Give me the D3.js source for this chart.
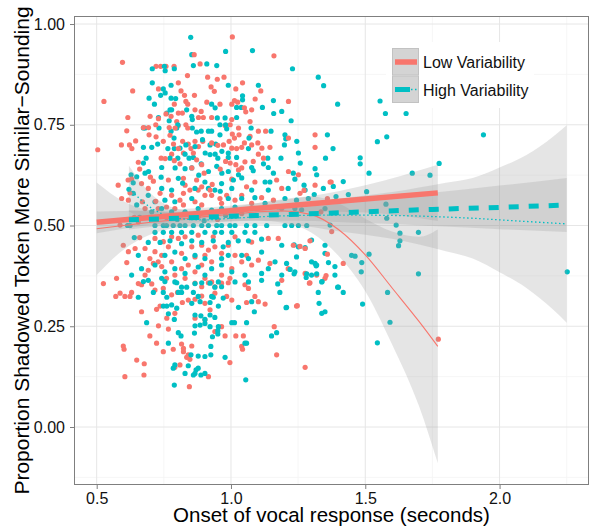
<!DOCTYPE html>
<html>
<head>
<meta charset="utf-8">
<script src="https://cdn.jsdelivr.net/npm/d3@7"></script>
<style>
  body { margin: 0; background: #fff; }
  text { font-family: "Liberation Sans", Arial, Helvetica, sans-serif; }
</style>
</head>
<body>
<svg width="589" height="529"></svg>
<script>
// ---- data ----
const lowPoints = [
[1.005,0.968],[1.160,0.921],[0.596,0.905],[0.721,0.895],[0.738,0.895],[0.758,0.895],[0.788,0.895],[0.863,0.924],[0.885,0.901],[0.838,0.872],[0.913,0.868],[0.949,0.863],[0.974,0.868],[1.043,0.854],[1.018,0.839],[1.111,0.834],[0.730,0.839],[0.634,0.834],[0.804,0.854],[0.814,0.834],[0.827,0.823],[0.926,0.844],[0.938,0.833],[0.864,0.823],[0.527,0.808],[0.789,0.801],[0.832,0.808],[0.839,0.801],[0.910,0.806],[0.959,0.801],[1.003,0.801],[1.025,0.806],[1.013,0.810],[1.090,0.814],[1.214,0.808],[1.050,0.792],[1.077,0.787],[1.055,0.782],[0.866,0.787],[0.889,0.783],[0.897,0.768],[0.879,0.768],[0.804,0.779],[0.819,0.779],[0.758,0.777],[0.777,0.771],[0.699,0.771],[0.730,0.765],[0.616,0.768],[0.798,0.758],[0.832,0.750],[0.804,0.748],[0.928,0.768],[1.003,0.763],[0.997,0.750],[0.978,0.748],[1.071,0.758],[0.720,0.750],[0.770,0.743],[0.792,0.742],[0.839,0.742],[0.773,0.724],[0.693,0.743],[0.674,0.743],[0.612,0.735],[0.695,0.725],[0.721,0.720],[1.028,0.742],[1.005,0.727],[1.030,0.725],[1.013,0.717],[1.102,0.734],[1.129,0.734],[1.071,0.721],[1.313,0.725],[1.313,0.694],[1.214,0.717],[0.592,0.700],[0.622,0.700],[0.631,0.691],[0.645,0.710],[0.504,0.688],[0.655,0.657],[0.820,0.709],[0.841,0.702],[0.866,0.709],[0.895,0.709],[0.879,0.696],[0.851,0.691],[0.748,0.709],[0.786,0.702],[0.804,0.691],[0.823,0.680],[0.779,0.677],[0.740,0.667],[0.755,0.666],[0.789,0.661],[0.810,0.653],[0.928,0.705],[0.951,0.699],[0.972,0.700],[0.993,0.709],[1.003,0.692],[1.021,0.691],[1.040,0.694],[1.050,0.705],[1.077,0.700],[1.100,0.705],[1.115,0.692],[1.145,0.694],[1.102,0.677],[1.121,0.667],[1.083,0.659],[1.052,0.658],[1.214,0.634],[1.251,0.626],[0.980,0.659],[0.997,0.655],[1.018,0.651],[1.040,0.643],[1.028,0.638],[0.860,0.680],[0.872,0.663],[0.891,0.651],[0.854,0.643],
[0.630,0.615],[0.711,0.610],[0.767,0.613],[0.823,0.617],[0.872,0.613],[0.930,0.602],[1.003,0.615],[1.170,0.613],[1.369,0.608],[0.847,0.588],[0.878,0.588],[0.903,0.575],[0.823,0.580],[0.866,0.559],[0.593,0.567],[0.618,0.563],[0.928,0.575],[0.959,0.567],[0.984,0.575],[1.040,0.575],[1.077,0.555],[1.114,0.569],[1.158,0.563],[1.189,0.542],[0.729,0.542],[0.760,0.546],[0.791,0.542],[0.823,0.551],[0.680,0.542],[0.670,0.559],[0.587,0.501],[0.717,0.468],[0.748,0.460],[0.767,0.447],[0.804,0.468],[0.829,0.472],[0.643,0.443],[0.680,0.443],[0.717,0.435],[0.742,0.426],[0.599,0.451],[0.618,0.435],[0.612,0.408],[0.698,0.418],[0.711,0.406],[0.729,0.410],[0.692,0.389],[0.742,0.398],[0.854,0.447],[0.891,0.451],[0.916,0.439],[0.940,0.447],[0.866,0.422],[0.903,0.426],[0.928,0.410],[0.816,0.393],[0.841,0.402],[0.866,0.385],[0.990,0.451],[1.015,0.426],[1.040,0.410],[1.058,0.426],[1.077,0.402],[1.139,0.468],[1.176,0.468],[1.232,0.451],[1.276,0.443],[1.102,0.414],[1.145,0.406],[1.213,0.393],[1.276,0.381],[1.319,0.377],[1.350,0.369],[1.418,0.406],[0.965,0.377],[0.996,0.369],[0.928,0.360],[0.903,0.369],[0.791,0.377],[0.760,0.369],[0.525,0.356],[0.574,0.369],[0.655,0.356],
[0.829,0.600],[0.891,0.596],[0.922,0.588],[0.779,0.575],[0.736,0.580],[0.810,0.563],[0.891,0.551],[0.965,0.555],[1.015,0.563],[0.692,0.592],[0.667,0.604],[1.058,0.596],[1.089,0.608],[1.189,0.592],[1.257,0.580],[1.313,0.600],[0.779,0.472],[0.878,0.476],[0.934,0.472],[1.015,0.472],[1.077,0.459],[0.965,0.431],[0.816,0.431],[0.779,0.410],[0.891,0.402],[1.003,0.393],[0.680,0.377],[1.189,0.364],[0.829,0.369],[0.617,0.613],[0.624,0.581],[0.660,0.640],[0.640,0.520],[0.660,0.470],[0.580,0.600],
[0.655,0.509],[0.878,0.522],[0.760,0.520],[0.950,0.515],[1.040,0.530],[0.700,0.620],[0.900,0.630],[0.960,0.640],[0.720,0.560],[0.850,0.520],
[0.587,0.332],[0.605,0.324],[0.624,0.324],[0.571,0.324],[0.630,0.334],[0.667,0.353],[0.705,0.355],[0.717,0.340],[0.748,0.344],[0.779,0.328],[0.801,0.334],[0.667,0.286],[0.723,0.292],[0.736,0.300],[0.761,0.270],[0.791,0.282],[0.819,0.309],[0.841,0.315],[0.866,0.357],[0.891,0.348],[0.916,0.358],[0.940,0.348],[0.965,0.357],[0.990,0.358],[0.940,0.332],[0.891,0.325],[0.866,0.317],[0.903,0.307],[0.922,0.291],[0.866,0.270],[0.903,0.266],[0.965,0.249],[0.940,0.237],[0.984,0.324],[1.003,0.315],[1.052,0.353],[1.065,0.344],[1.089,0.324],[1.102,0.311],[1.127,0.305],[1.058,0.309],[1.244,0.300],[1.294,0.358],[0.730,0.251],[0.767,0.243],[0.698,0.226],[0.723,0.208],[0.748,0.187],[0.785,0.193],[0.816,0.206],[0.823,0.195],[0.823,0.187],[0.854,0.201],[0.841,0.179],[0.835,0.173],[0.847,0.168],[0.810,0.154],[0.791,0.148],[0.599,0.201],[0.602,0.193],[0.649,0.166],[0.677,0.157],[0.676,0.129],[0.605,0.125],[0.845,0.100],[0.916,0.125],[0.996,0.160],[1.040,0.200],[1.043,0.193],[1.018,0.226],[1.046,0.226],[0.978,0.226],[1.161,0.249],[1.170,0.179],[1.276,0.148],
[1.373,0.608],[1.272,0.587],[1.359,0.567],[1.335,0.534],[1.375,0.485],[1.294,0.462],[1.359,0.429],[1.257,0.448],[1.292,0.357],[1.354,0.376],[1.247,0.301],[1.772,0.218]
];

const highPoints = [
[0.850,0.967],[0.854,0.924],[0.980,0.932],[1.080,0.934],[0.707,0.889],[0.752,0.895],[0.755,0.884],[0.789,0.889],[0.860,0.897],[0.910,0.901],[0.947,0.897],[1.229,0.889],[1.325,0.868],[1.345,0.847],[1.397,0.801],[0.707,0.854],[0.748,0.839],[0.777,0.848],[0.738,0.823],[0.755,0.829],[0.794,0.815],[0.777,0.816],[0.695,0.816],[0.715,0.801],[0.990,0.848],[1.102,0.848],[1.043,0.822],[1.043,0.812],[1.021,0.793],[1.038,0.793],[1.158,0.810],[1.117,0.793],[1.159,0.778],[1.189,0.783],[1.224,0.760],[0.928,0.801],[0.941,0.792],[0.773,0.787],[0.779,0.787],[0.761,0.779],[0.835,0.787],[0.730,0.768],[0.770,0.760],[0.854,0.771],[0.856,0.763],[0.949,0.767],[0.978,0.767],[1.021,0.768],[0.674,0.742],[0.680,0.742],[0.732,0.742],[0.802,0.750],[0.798,0.742],[0.777,0.734],[0.788,0.717],[0.856,0.742],[0.872,0.732],[0.889,0.734],[0.916,0.734],[0.928,0.734],[0.959,0.750],[0.980,0.750],[0.984,0.740],[0.959,0.725],[1.075,0.742],[1.149,0.734],[1.201,0.725],[1.204,0.715],[1.245,0.709],[1.199,0.700],[1.359,0.725],[1.380,0.691],[1.352,0.667],[1.251,0.680],[1.258,0.655],[1.313,0.641],[1.319,0.626],[1.186,0.667],[1.158,0.630],[1.232,0.630],[0.674,0.694],[0.705,0.694],[0.684,0.667],[0.674,0.655],[0.727,0.702],[0.765,0.691],[0.789,0.691],[0.810,0.692],[0.832,0.700],[0.866,0.696],[0.894,0.713],[0.922,0.700],[0.943,0.702],[0.966,0.684],[0.773,0.667],[0.802,0.667],[0.829,0.677],[0.844,0.667],[0.860,0.669],[0.904,0.680],[0.922,0.676],[0.951,0.667],[0.941,0.677],[0.990,0.680],[1.021,0.669],[1.065,0.691],[1.067,0.717],[0.990,0.669],[1.137,0.667],[1.121,0.653],[1.139,0.644],[0.680,0.630],[0.693,0.634],[0.628,0.626],[0.742,0.644],[0.792,0.643],[0.829,0.641],[0.854,0.643],[0.889,0.653],[0.916,0.634],[0.947,0.647],[0.966,0.630],[0.990,0.634],[1.028,0.626],[1.077,0.644],[1.083,0.636],
[1.555,0.809],[1.575,0.778],[1.652,0.778],[1.940,0.725],[1.545,0.708],[1.580,0.720],[1.418,0.609],[1.481,0.668],[1.481,0.653],[1.514,0.630],[1.675,0.630],[1.741,0.625],[1.775,0.654],[1.344,0.592],[1.381,0.597],[1.272,0.600],[1.310,0.577],[1.391,0.572],[1.437,0.577],[1.505,0.584],[1.577,0.553],[1.580,0.518],[1.615,0.501],[1.629,0.481],[1.629,0.462],[1.624,0.450],[1.698,0.483],[1.514,0.429],[1.462,0.424],[1.276,0.445],[1.235,0.452],[1.369,0.501],[1.263,0.539],
[0.649,0.621],[0.804,0.617],[0.903,0.608],[0.965,0.604],[1.009,0.613],[1.040,0.618],[1.127,0.608],[1.145,0.608],[1.238,0.615],[0.742,0.592],[0.779,0.588],[0.866,0.592],[0.916,0.592],[0.940,0.588],[1.003,0.592],[1.077,0.588],[1.139,0.588],[1.213,0.592],[1.276,0.588],[0.636,0.580],[0.692,0.575],[0.717,0.559],[0.754,0.563],[0.791,0.559],[0.854,0.567],[0.990,0.567],[1.040,0.567],[1.089,0.569],[1.201,0.567],[1.244,0.563],[1.288,0.567],[0.649,0.551],[0.705,0.534],[0.742,0.542],[0.779,0.534],[0.829,0.534],[0.878,0.542],[0.928,0.538],[0.965,0.542],[1.015,0.546],[1.127,0.555],[1.176,0.546],[1.238,0.542],[1.350,0.542],
[0.615,0.500],[0.624,0.500],[0.717,0.500],[0.748,0.500],[0.760,0.500],[0.785,0.500],[0.810,0.500],[0.829,0.500],[0.860,0.500],[0.891,0.500],[0.916,0.500],[0.947,0.500],[0.965,0.500],[0.996,0.500],[1.015,0.500],[1.058,0.500],[1.089,0.500],[1.133,0.500],[1.201,0.500],[1.226,0.500],[1.251,0.500],[1.282,0.500],
[0.717,0.483],[0.748,0.483],[0.779,0.483],[0.816,0.483],[0.854,0.483],[0.903,0.483],[0.940,0.483],[0.965,0.483],[1.003,0.483],[1.052,0.483],[1.089,0.483],
[0.692,0.458],[0.736,0.458],[0.773,0.462],[0.816,0.455],[0.854,0.462],[0.891,0.458],[0.934,0.462],[0.971,0.447],[0.990,0.458],[1.027,0.462],[1.065,0.462],[1.114,0.466],[1.189,0.451],[1.251,0.447],[1.300,0.464],[1.350,0.451],
[0.655,0.426],[0.754,0.426],[0.791,0.434],[0.829,0.418],[0.866,0.426],[0.903,0.418],[0.965,0.418],[0.990,0.426],[1.040,0.426],[1.065,0.418],[1.114,0.434],[1.164,0.410],[1.207,0.406],[1.244,0.422],[1.300,0.410],[1.350,0.431],[1.387,0.398],[1.319,0.402],
[0.667,0.393],[0.717,0.402],[0.754,0.385],[0.791,0.393],[0.829,0.381],[0.878,0.397],[0.928,0.393],[0.965,0.402],[1.003,0.385],[1.052,0.377],[1.114,0.381],[1.139,0.393],[1.189,0.377],[1.238,0.385],[1.300,0.377],[1.338,0.360],[1.387,0.377],[1.449,0.426],
[0.630,0.377],[0.692,0.364],[0.742,0.369],[0.791,0.360],[0.866,0.356],[0.903,0.377],[0.953,0.360],[1.015,0.360],[1.065,0.360],[1.114,0.364],
[0.674,0.361],[0.754,0.361],[0.798,0.358],[0.816,0.347],[0.835,0.347],[0.891,0.358],[0.922,0.357],[0.940,0.347],[0.965,0.348],[0.655,0.322],[0.711,0.334],[0.748,0.334],[0.761,0.322],[0.804,0.334],[0.816,0.334],[0.860,0.334],[0.878,0.324],[0.928,0.324],[0.934,0.322],[0.971,0.320],[0.748,0.300],[0.761,0.300],[0.798,0.295],[0.779,0.303],[0.854,0.307],[0.885,0.311],[0.922,0.309],[0.953,0.300],[1.028,0.297],[1.077,0.311],[1.087,0.286],[1.174,0.355],[1.182,0.334],[1.207,0.297],[1.325,0.334],[1.328,0.307],[1.350,0.286],[1.338,0.282],[1.400,0.347],[1.418,0.334],[0.767,0.281],[0.789,0.267],[0.866,0.278],[0.888,0.276],[0.903,0.267],[0.922,0.278],[0.940,0.272],[0.866,0.251],[0.885,0.253],[0.903,0.257],[0.922,0.249],[0.953,0.249],[1.003,0.259],[1.013,0.259],[1.058,0.259],[0.686,0.259],[0.804,0.234],[0.814,0.226],[0.864,0.233],[0.951,0.239],[0.951,0.231],[0.931,0.224],[0.925,0.200],[0.903,0.175],[0.925,0.179],[0.878,0.176],[0.851,0.179],[0.767,0.208],[0.791,0.154],[0.785,0.146],[0.841,0.152],[0.878,0.146],[0.866,0.133],[0.860,0.129],[0.888,0.129],[0.903,0.133],[0.870,0.142],[0.978,0.173],[1.052,0.208],[1.058,0.208],[1.055,0.117],[0.789,0.104],[1.151,0.226],[1.170,0.234],[0.829,0.133],
[1.220,0.391],[1.235,0.380],[1.282,0.380],[1.280,0.371],[1.313,0.406],[1.317,0.400],[1.319,0.380],[1.339,0.361],[1.363,0.408],[1.397,0.347],[1.487,0.408],[1.485,0.385],[1.490,0.305],[1.583,0.334],[1.592,0.260],[1.698,0.380],[1.545,0.209],[2.252,0.385],[1.205,0.296],
[0.636,0.606],[0.620,0.590],[0.660,0.520],[0.640,0.470],
[0.700,0.520],[0.800,0.515],[0.900,0.512],[0.980,0.525],[0.740,0.620],[0.880,0.625],[0.820,0.605],[0.960,0.585]
];

// fitted lines and their bands (lm = straight fit, loess = smooth)
const lowLmX   = [0.5, 0.7, 0.9, 1.1, 1.3, 1.5, 1.77];
const lowLmFit = [0.508, 0.520, 0.531, 0.543, 0.554, 0.566, 0.581];
const lowLmLo  = [0.481, 0.502, 0.518, 0.530, 0.535, 0.532, 0.511];
const lowLmHi  = [0.535, 0.538, 0.544, 0.556, 0.573, 0.600, 0.651];

const lowLoX   = [0.5, 0.6, 0.7, 0.8, 0.9, 1.0, 1.1, 1.2, 1.3, 1.4, 1.5, 1.6, 1.7, 1.77];
const lowLoFit = [0.492, 0.500, 0.508, 0.515, 0.522, 0.528, 0.534, 0.536, 0.527, 0.490, 0.427, 0.345, 0.262, 0.200];
const lowLoLo  = [0.377, 0.440, 0.478, 0.495, 0.505, 0.510, 0.512, 0.506, 0.482, 0.425, 0.337, 0.205, 0.052, -0.090];
const lowLoHi  = [0.607, 0.560, 0.538, 0.535, 0.539, 0.546, 0.556, 0.566, 0.572, 0.555, 0.517, 0.485, 0.472, 0.490];

const highLmX   = [0.62, 0.8, 1.0, 1.25, 1.5, 1.75, 2.0, 2.25];
const highLmFit = [0.514, 0.518, 0.523, 0.528, 0.534, 0.540, 0.545, 0.551];
const highLmLo  = [0.490, 0.503, 0.511, 0.512, 0.506, 0.499, 0.491, 0.484];
const highLmHi  = [0.538, 0.533, 0.535, 0.544, 0.562, 0.581, 0.599, 0.618];

const highLoX   = [0.62, 0.7, 0.8, 0.9, 1.0, 1.2, 1.4, 1.6, 1.8, 1.9, 2.0, 2.1, 2.2, 2.25];
const highLoFit = [0.592, 0.545, 0.518, 0.514, 0.518, 0.524, 0.526, 0.525, 0.521, 0.518, 0.514, 0.510, 0.506, 0.504];
const highLoLo  = [0.535, 0.510, 0.495, 0.496, 0.501, 0.502, 0.486, 0.467, 0.436, 0.418, 0.384, 0.345, 0.291, 0.259];
const highLoHi  = [0.648, 0.580, 0.541, 0.532, 0.535, 0.546, 0.566, 0.583, 0.606, 0.618, 0.644, 0.675, 0.721, 0.749];

const xTicks = [0.5, 1.0, 1.5, 2.0];
const xMinor = [0.75, 1.25, 1.75, 2.25];
const yTicks = [0, 0.25, 0.5, 0.75, 1.0];
const yMinor = [-0.125, 0.125, 0.375, 0.625, 0.875];
const legendLabels = ['Low Variability', 'High Variability'];

// ---- chart ----
const svg = d3.select('svg');
const width = +svg.attr('width');
const height = +svg.attr('height');
const margin = {top: 16, right: 0, bottom: 44, left: 74};
const innerWidth = width - margin.left - margin.right;
const innerHeight = height - margin.top - margin.bottom;

const red = '#F8766D';
const cyan = '#00BFC4';

const xScale = d3.scaleLinear().domain([0.4155, 2.333]).range([0, innerWidth]);
const yScale = d3.scaleLinear().domain([-0.1439, 1.0199]).range([innerHeight, 0]);

const g = svg.append('g').attr('transform', `translate(${margin.left},${margin.top})`);

g.append('clipPath').attr('id', 'panel')
  .append('rect').attr('width', innerWidth).attr('height', innerHeight);

// grid
g.selectAll('.xminor').data(xMinor).enter().append('line')
  .attr('x1', d => xScale(d)).attr('x2', d => xScale(d))
  .attr('y1', 0).attr('y2', innerHeight)
  .attr('stroke', '#f4f4f4').attr('stroke-width', 0.8);
g.selectAll('.yminor').data(yMinor).enter().append('line')
  .attr('y1', d => yScale(d)).attr('y2', d => yScale(d))
  .attr('x1', 0).attr('x2', innerWidth)
  .attr('stroke', '#f4f4f4').attr('stroke-width', 0.8);
g.selectAll('.xmajor').data(xTicks).enter().append('line')
  .attr('x1', d => xScale(d)).attr('x2', d => xScale(d))
  .attr('y1', 0).attr('y2', innerHeight)
  .attr('stroke', '#e6e6e6').attr('stroke-width', 1);
g.selectAll('.ymajor').data(yTicks).enter().append('line')
  .attr('y1', d => yScale(d)).attr('y2', d => yScale(d))
  .attr('x1', 0).attr('x2', innerWidth)
  .attr('stroke', '#e6e6e6').attr('stroke-width', 1);

// points, interleaved so neither group sits wholly on top
const pts = [];
const n = Math.max(lowPoints.length, highPoints.length);
for (let i = 0; i < n; i++) {
  if (lowPoints[i]) pts.push({x: lowPoints[i][0], y: lowPoints[i][1], c: red});
  if (highPoints[i]) pts.push({x: highPoints[i][0], y: highPoints[i][1], c: cyan});
}
const plot = g.append('g').attr('clip-path', 'url(#panel)');
plot.selectAll('circle').data(pts).enter().append('circle')
  .attr('cx', d => xScale(d.x))
  .attr('cy', d => yScale(d.y))
  .attr('r', 2.6)
  .attr('fill', d => d.c);

// bands
const band = (xs, lo, hi) => d3.area()
  .x((d, i) => xScale(xs[i]))
  .y0((d, i) => yScale(lo[i]))
  .y1((d, i) => yScale(hi[i]))
  .curve(d3.curveMonotoneX)(xs);

[[lowLoX, lowLoLo, lowLoHi], [lowLmX, lowLmLo, lowLmHi],
 [highLoX, highLoLo, highLoHi], [highLmX, highLmLo, highLmHi]].forEach(b => {
  plot.append('path')
    .attr('d', band(b[0], b[1], b[2]))
    .attr('fill', '#999999')
    .attr('fill-opacity', 0.26);
});

const fitLine = (xs, ys) => d3.line()
  .x((d, i) => xScale(xs[i]))
  .y((d, i) => yScale(ys[i]))
  .curve(d3.curveMonotoneX)(xs);

plot.append('path').attr('d', fitLine(lowLoX, lowLoFit))
  .attr('fill', 'none').attr('stroke', red).attr('stroke-width', 1.1);
plot.append('path').attr('d', fitLine(highLoX, highLoFit))
  .attr('fill', 'none').attr('stroke', cyan).attr('stroke-width', 1.3)
  .attr('stroke-dasharray', '1.5,2.5');
plot.append('path').attr('d', fitLine(lowLmX, lowLmFit))
  .attr('fill', 'none').attr('stroke', red).attr('stroke-width', 5.5);
plot.append('path').attr('d', fitLine(highLmX, highLmFit))
  .attr('fill', 'none').attr('stroke', cyan).attr('stroke-width', 5)
  .attr('stroke-dasharray', '10,10');

// panel border
g.append('rect')
  .attr('x', 0.5).attr('y', 0.5)
  .attr('width', innerWidth - 1).attr('height', innerHeight - 1)
  .attr('fill', 'none').attr('stroke', '#7f7f7f').attr('stroke-width', 1);

// axes
const yAxis = d3.axisLeft(yScale).tickValues(yTicks)
  .tickFormat(d3.format('.2f')).tickSize(4).tickPadding(5);
const yAxisG = g.append('g').call(yAxis);
yAxisG.select('.domain').remove();

const xAxis = d3.axisBottom(xScale).tickValues(xTicks)
  .tickFormat(d3.format('.1f')).tickSize(4).tickPadding(4);
const xAxisG = g.append('g').call(xAxis)
  .attr('transform', `translate(0,${innerHeight})`);
xAxisG.select('.domain').remove();

[xAxisG, yAxisG].forEach(a => {
  a.selectAll('line').attr('stroke', '#7f7f7f');
  a.selectAll('text')
    .attr('fill', '#111')
    .style('font-size', '16px')
    .style('font-family', '"Liberation Sans", Arial, sans-serif');
});

svg.append('text')
  .attr('x', margin.left + innerWidth / 2)
  .attr('y', 522)
  .attr('text-anchor', 'middle')
  .attr('fill', '#000')
  .style('font-size', '20.5px')
  .text('Onset of vocal response (seconds)');

svg.append('text')
  .attr('transform', `translate(28.5,${margin.top + innerHeight / 2}) rotate(-90)`)
  .attr('text-anchor', 'middle')
  .attr('fill', '#000')
  .style('font-size', '21px')
  .text('Proportion Shadowed Token More Similar\u2212Sounding');

// legend
const legend = svg.append('g');
legend.append('rect')
  .attr('x', 386).attr('y', 42).attr('width', 148).attr('height', 66)
  .attr('fill', '#fff');
legendLabels.forEach((label, i) => {
  const y0 = 48 + i * 27.5;
  legend.append('rect')
    .attr('x', 392.5).attr('y', y0 + 0.5).attr('width', 26).attr('height', 26.5)
    .attr('fill', '#d4d4d4').attr('stroke', '#c2c2c2').attr('stroke-width', 1);
  const cy = y0 + 14;
  if (i === 0) {
    legend.append('line').attr('x1', 395).attr('x2', 417).attr('y1', cy).attr('y2', cy)
      .attr('stroke', red).attr('stroke-width', 5.5);
  } else {
    legend.append('line').attr('x1', 395).attr('x2', 410).attr('y1', cy).attr('y2', cy)
      .attr('stroke', cyan).attr('stroke-width', 5);
    legend.append('line').attr('x1', 395).attr('x2', 418).attr('y1', cy).attr('y2', cy)
      .attr('stroke', cyan).attr('stroke-width', 1.3).attr('stroke-dasharray', '1.5,2.5');
  }
  legend.append('text')
    .attr('x', 423).attr('y', cy + 6)
    .attr('fill', '#111')
    .style('font-size', '16px')
    .text(label);
});
</script>
</body>
</html>
